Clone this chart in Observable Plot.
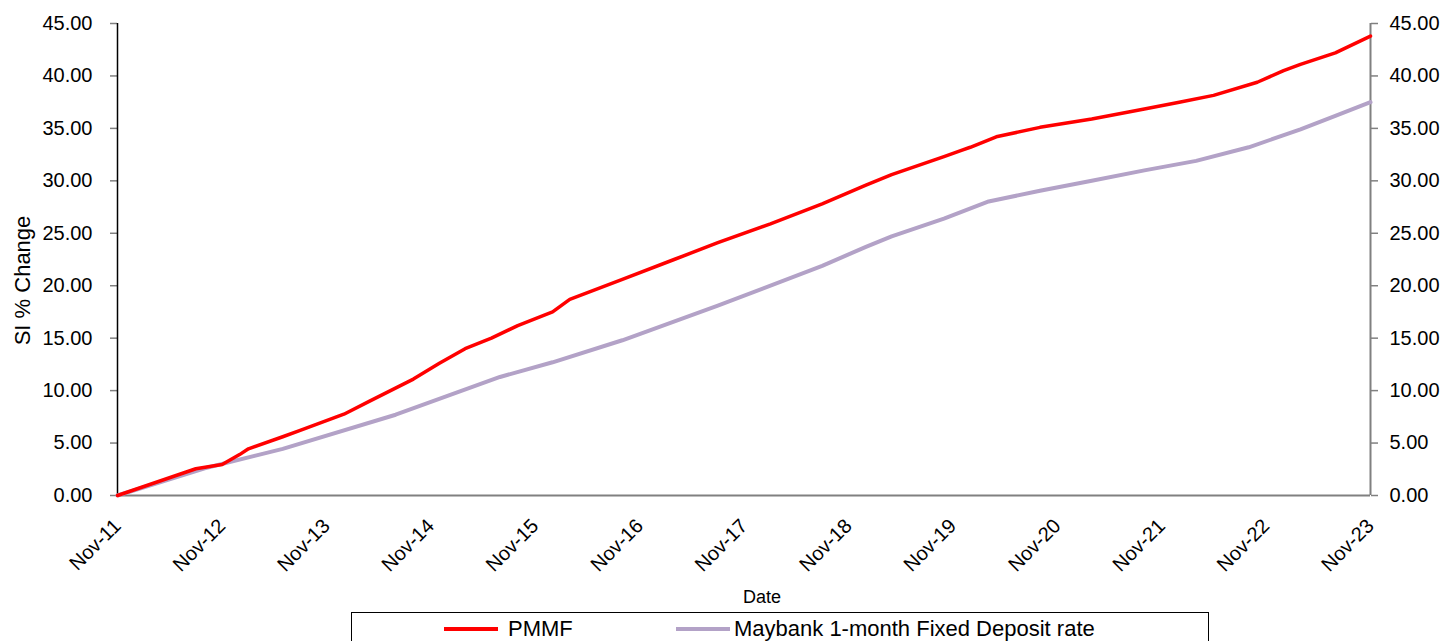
<!DOCTYPE html>
<html>
<head>
<meta charset="utf-8">
<script src="https://cdn.jsdelivr.net/npm/d3@7"></script>
<script src="https://cdn.jsdelivr.net/npm/@observablehq/plot@0.6"></script>
<style>
  html, body { margin: 0; padding: 0; background: #fff; }
  body { font-family: "Liberation Sans", Arial, sans-serif; }
  #wrap { position: relative; width: 1447px; height: 641px; overflow: hidden; }
  #legend { position: absolute; left: 351px; top: 612px; width: 858px; height: 40px;
            border: 1px solid #000; box-sizing: border-box; background: #fff; }
  .sw { position: absolute; top: 14px; height: 4px; }
  .lt { position: absolute; top: 2px; font-size: 22px; line-height: 28px; color: #000; white-space: nowrap; }
</style>
</head>
<body>
<div id="wrap">
  <div id="chart"></div>
  <div id="legend"></div>
</div>
<script>
// Tick labels
const tickDates = ["2011-11","2012-11","2013-11","2014-11","2015-11","2016-11","2017-11","2018-11","2019-11","2020-11","2021-11","2022-11","2023-11"];
const tickLabels = ["Nov-11","Nov-12","Nov-13","Nov-14","Nov-15","Nov-16","Nov-17","Nov-18","Nov-19","Nov-20","Nov-21","Nov-22","Nov-23"];
const yTicks = [0,5,10,15,20,25,30,35,40,45];

// Series names
const seriesNames = ["PMMF", "Maybank 1-month Fixed Deposit rate"];
const seriesColors = ["#FF0000", "#B3A2C7"];

// PMMF since-inception % change
const pmmfDates = ["2011-11","2012-08","2012-11","2013-01","2013-02","2013-06","2013-08","2014-01","2014-04","2014-09","2014-12","2015-03","2015-06","2015-09","2016-01","2016-03","2016-09","2017-03","2017-08","2018-02","2018-08","2019-01","2019-04","2019-10","2019-12","2020-01","2020-04","2020-09","2021-03","2021-09","2022-01","2022-05","2022-10","2023-01","2023-03","2023-07","2023-11"];
const pmmfValues = [0,2.55,2.95,3.9,4.45,5.6,6.2,7.75,9.0,11.1,12.6,14.0,15.0,16.2,17.5,18.7,20.6,22.5,24.1,25.9,27.8,29.6,30.6,32.3,32.9,33.2,34.2,35.1,35.9,36.85,37.5,38.15,39.4,40.5,41.1,42.2,43.8];

// Maybank 1-month FD since-inception % change
const mbDates = ["2011-11","2012-09","2013-06","2014-07","2015-07","2016-01","2016-09","2017-08","2018-08","2019-01","2019-04","2019-10","2020-03","2020-09","2021-03","2021-09","2022-03","2022-09","2023-03","2023-07","2023-11"];
const mbValues = [0,2.6,4.45,7.7,11.3,12.7,14.8,18.1,21.9,23.7,24.7,26.4,28.0,29.05,30.0,31.0,31.9,33.2,34.9,36.2,37.5];

const parse = d3.utcParse("%Y-%m");
const pmmf = pmmfDates.map((d, i) => ({date: parse(d), value: pmmfValues[i]}));
const mb = mbDates.map((d, i) => ({date: parse(d), value: mbValues[i]}));
const ticks = tickDates.map(parse);
const fmtTick = d => { const i = ticks.findIndex(t => +t === +d); return i >= 0 ? tickLabels[i] : ""; };
const fmtY = d => d.toFixed(2);

const chart = Plot.plot({
  width: 1447,
  height: 610,
  marginLeft: 117,
  marginRight: 77,
  marginTop: 23,
  marginBottom: 115,
  style: { fontFamily: "'Liberation Sans', Arial, sans-serif", fontSize: "20px", color: "#000", background: "#fff", overflow: "visible" },
  x: { type: "utc", domain: [ticks[0], ticks[ticks.length - 1]] },
  y: { domain: [0, 45] },
  marks: [
    Plot.axisY({ ticks: yTicks, tickFormat: fmtY, tickSize: 7, tickPadding: 18, stroke: "#808080", strokeWidth: 1.5, label: null, fontSize: 20, fill: "#000" }),
    Plot.axisY({ anchor: "right", ticks: yTicks, tickFormat: fmtY, tickSize: 7, tickPadding: 12, stroke: "#808080", strokeWidth: 1.5, label: null, fontSize: 20, fill: "#000" }),
    Plot.axisX({ ticks: ticks, tickFormat: fmtTick, tickRotate: -45, tickSize: 0, tickPadding: 27, label: null, fontSize: 20, fill: "#000" }),
    Plot.ruleY([yTicks[0]], { stroke: "#808080", strokeWidth: 2 }),
    Plot.ruleX([ticks[0]], { stroke: "#000", strokeWidth: 1.5 }),
    Plot.ruleX([ticks[ticks.length - 1]], { stroke: "#808080", strokeWidth: 2 }),
    Plot.line(mb, { x: "date", y: "value", stroke: seriesColors[1], strokeWidth: 4 }),
    Plot.line(pmmf, { x: "date", y: "value", stroke: seriesColors[0], strokeWidth: 3.5 }),
    Plot.text(["Date"], { frameAnchor: "bottom", dy: 107, dx: 18, fontSize: 18, fill: "#000" }),
    Plot.text(["SI % Change"], { frameAnchor: "left", textAnchor: "middle", rotate: -90, dx: -95, dy: 21, fontSize: 22, fill: "#000" })
  ]
});
document.getElementById("chart").appendChild(chart);

// Legend
const legend = document.getElementById("legend");
const swLeft = [92, 324], txtLeft = [156, 382];
seriesNames.forEach((name, i) => {
  const sw = document.createElement("div");
  sw.className = "sw";
  sw.style.left = swLeft[i] + "px";
  sw.style.width = "54px";
  sw.style.background = seriesColors[i];
  legend.appendChild(sw);
  const t = document.createElement("div");
  t.className = "lt";
  t.style.left = txtLeft[i] + "px";
  t.textContent = name;
  legend.appendChild(t);
});
</script>
</body>
</html>
